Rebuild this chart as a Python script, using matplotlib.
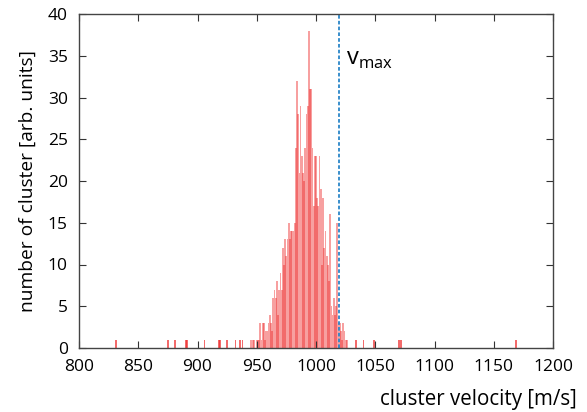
import matplotlib
matplotlib.use("Agg")
import matplotlib.pyplot as plt
import numpy as np

plt.rcParams['font.family'] = ['Open Sans', 'DejaVu Sans']

# main peak: bin centre velocity (m/s) and counts
velocities = list(range(945, 1027))
counts = [1, 0, 1, 1, 0, 1, 1, 1, 3, 1, 3, 3, 1, 2, 2, 3, 4, 3, 2, 6,
          7, 6, 8, 4, 7, 9, 7, 12, 10, 13, 11, 13, 15, 13, 14, 14, 14, 15, 24, 32,
          28, 21, 29, 23, 21, 20, 24, 28, 29, 38, 31, 31, 24, 17, 23, 23, 18, 17, 23, 19,
          10, 18, 12, 14, 11, 10, 8, 16, 5, 4, 6, 4, 5, 15, 3, 3, 2, 1, 3, 2,
          1, 1]

# isolated single events
outlier_v = [831, 875, 881, 890, 891, 906, 918, 919, 925, 932, 936, 938,
             1034, 1040, 1049, 1070, 1072, 1169]
outlier_c = [1] * len(outlier_v)

v_max = 1019.5

xticks = [800, 850, 900, 950, 1000, 1050, 1100, 1150, 1200]
yticks = [0, 5, 10, 15, 20, 25, 30, 35, 40]

fig = plt.figure(figsize=(5.87, 4.12), dpi=100)
ax = fig.add_axes([79/587, 1-348/412, (553-79)/587, (348-14)/412])

bar_color = '#ee2c2c'
ax.bar(velocities, counts, width=1.5, color=bar_color, alpha=0.45, linewidth=0)
ax.bar(outlier_v, outlier_c, width=1.5, color=bar_color, alpha=0.7, linewidth=0)

ax.axvline(v_max, color='#2a86c8', linestyle=(0, (2, 1.2)), linewidth=1.3)
ax.text(1025, 34.6, r'v$_{\mathregular{max}}$', fontsize=17, ha='left', va='center')

ax.set_xlim(800, 1200)
ax.set_ylim(0, 40)
ax.set_xticks(xticks)
ax.set_yticks(yticks)
ax.tick_params(direction='in', length=5, width=0.8, top=True, right=True,
               labelsize=12.5, pad=8, colors='#333333', labelcolor='black')
for s in ax.spines.values():
    s.set_color('#444444')
    s.set_linewidth(1.0)

ax.set_ylabel('number of cluster [arb. units]', fontsize=13.8, labelpad=8)
fig.text(577/587, 1-400/412, 'cluster velocity [m/s]', fontsize=14.8,
         ha='right', va='center')

fig.savefig('out.png', dpi=100)
